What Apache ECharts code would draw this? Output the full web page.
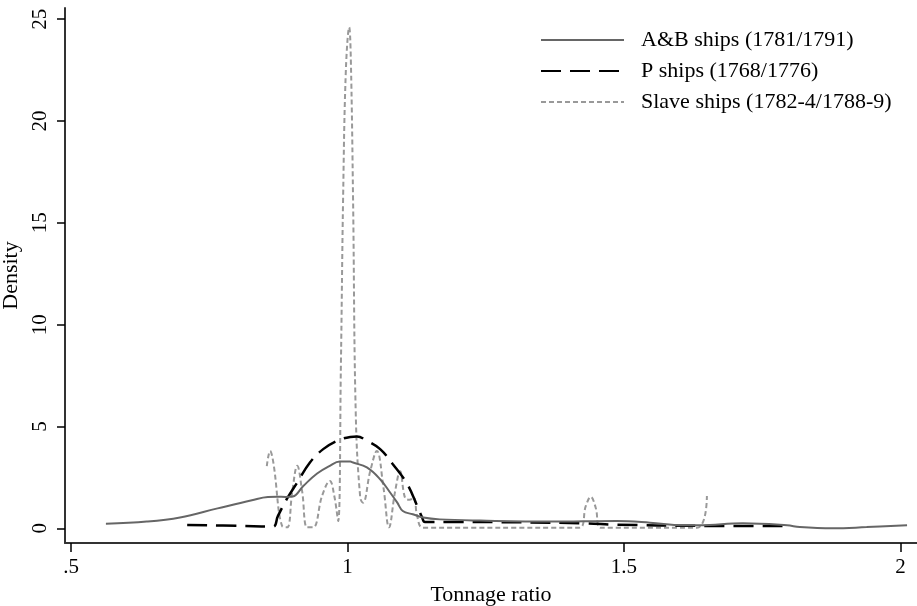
<!DOCTYPE html>
<html><head><meta charset="utf-8">
<script src="https://cdn.jsdelivr.net/npm/echarts@6/dist/echarts.min.js"></script>
<style>html,body{margin:0;padding:0;background:#fff}#c{width:917px;height:606px}</style>
</head><body><div id="c"></div><script>
const seriesNames = ['A&B ships (1781/1791)', 'P ships (1768/1776)', 'Slave ships (1782-4/1788-9)'];
const xTicks = [0.5, 1, 1.5, 2];
const yTicks = [0, 5, 10, 15, 20, 25];

const abX = [0.563,0.637,0.697,0.765,0.827,0.856,0.872,0.888,0.901,0.92,0.945,0.968,0.986,1.005,1.01,1.035,1.059,1.077,1.09,1.10,1.118,1.137,1.167,1.24,1.366,1.487,1.547,1.607,1.637,1.715,1.795,1.818,1.878,1.939,2.012];
const abY = [0.23,0.33,0.53,0.98,1.38,1.54,1.55,1.54,1.56,2.08,2.69,3.07,3.28,3.28,3.23,2.99,2.41,1.76,1.26,0.85,0.69,0.53,0.44,0.38,0.33,0.36,0.28,0.15,0.15,0.25,0.15,0.06,0.0,0.06,0.15];

const pX = [0.71,0.806,0.865,0.874,0.89,0.909,0.932,0.956,0.981,1.005,1.017,1.035,1.059,1.082,1.108,1.126,1.135,1.14,1.2,1.426,1.487,1.637,1.797];
const pY = [0.16,0.12,0.08,0.6,1.43,2.25,3.23,3.89,4.30,4.49,4.51,4.30,3.89,3.15,2.17,1.10,0.53,0.31,0.31,0.25,0.18,0.12,0.11];

const slX = [0.854,0.860,0.866,0.882,0.891,0.900,0.909,0.918,0.927,0.938,0.954,0.968,0.976,0.983,0.988,0.992,0.997,1.003,1.006,1.010,1.015,1.023,1.028,1.041,1.053,1.065,1.075,1.086,1.095,1.104,1.112,1.120,1.126,1.137,1.419,1.431,1.440,1.449,1.458,1.632,1.650];
const slY = [3.05,3.8,3.2,0.1,0.05,1.8,3.07,1.8,0.05,0.05,1.6,2.33,1.6,0.36,8.0,16.2,22.5,24.6,23.0,16.2,5.5,1.5,1.26,2.8,3.8,2.0,0.05,1.8,2.8,1.5,1.4,1.5,0.6,0.03,0.03,1.1,1.55,1.0,0.03,0.03,1.59];

const pair = (xs, ys) => xs.map((x, i) => [x, ys[i]]);
const FONT = 'Liberation Serif';

const chart = echarts.init(document.getElementById('c'), null, {renderer: 'canvas'});
chart.setOption({
  animation: false,
  backgroundColor: '#fff',
  textStyle: {fontFamily: FONT, color: '#000'},
  grid: {left: 65, right: 0, top: 8, bottom: 63, containLabel: false, outerBoundsMode: 'none'},
  legend: {
    orient: 'vertical', left: 535, top: 24,
    itemWidth: 83, itemHeight: 14, itemGap: 9,
    data: seriesNames,
    itemStyle: {opacity: 0},
    textStyle: {fontFamily: FONT, fontSize: 22, color: '#000', padding: [0, 0, 0, 12]}
  },
  xAxis: {
    type: 'value', min: 0.489, max: 2.03,
    name: 'Tonnage ratio', nameLocation: 'middle', nameGap: 41,
    nameTextStyle: {fontFamily: FONT, fontSize: 22, color: '#000'},
    axisLine: {show: true, onZero: false, lineStyle: {color: '#333', width: 2}},
    axisTick: {show: true, length: 9, customValues: xTicks, lineStyle: {color: '#000', width: 1.5}},
    axisLabel: {customValues: xTicks, fontFamily: FONT, fontSize: 21, color: '#000', margin: 14,
      formatter: v => (v === 0.5 ? '.5' : String(v))},
    splitLine: {show: false}
  },
  yAxis: {
    type: 'value', min: -0.72, max: 25.55,
    name: 'Density', nameLocation: 'middle', nameGap: 40, nameRotate: 90,
    nameTextStyle: {fontFamily: FONT, fontSize: 22, color: '#000'},
    axisLine: {show: true, onZero: false, lineStyle: {color: '#333', width: 2}},
    axisTick: {show: true, length: 8, customValues: yTicks, lineStyle: {color: '#000', width: 1.5}},
    axisLabel: {customValues: yTicks, fontFamily: FONT, fontSize: 21, color: '#000', rotate: 90, margin: 14},
    splitLine: {show: false}
  },
  series: [
    {name: seriesNames[0], type: 'line', data: pair(abX, abY), smooth: 0.4, symbol: 'none', showSymbol: false,
      lineStyle: {color: '#666', width: 2, type: 'solid'}, itemStyle: {color: '#666'}, z: 3},
    {name: seriesNames[1], type: 'line', data: pair(pX, pY), smooth: 0.4, symbol: 'none', showSymbol: false,
      lineStyle: {color: '#000', width: 2.5, type: [20, 9]}, itemStyle: {color: '#000'}, z: 2},
    {name: seriesNames[2], type: 'line', data: pair(slX, slY), smooth: 0.4, symbol: 'none', showSymbol: false,
      lineStyle: {color: '#999', width: 2, type: [5, 3]}, itemStyle: {color: '#999'}, z: 1}
  ]
});
</script></body></html>
